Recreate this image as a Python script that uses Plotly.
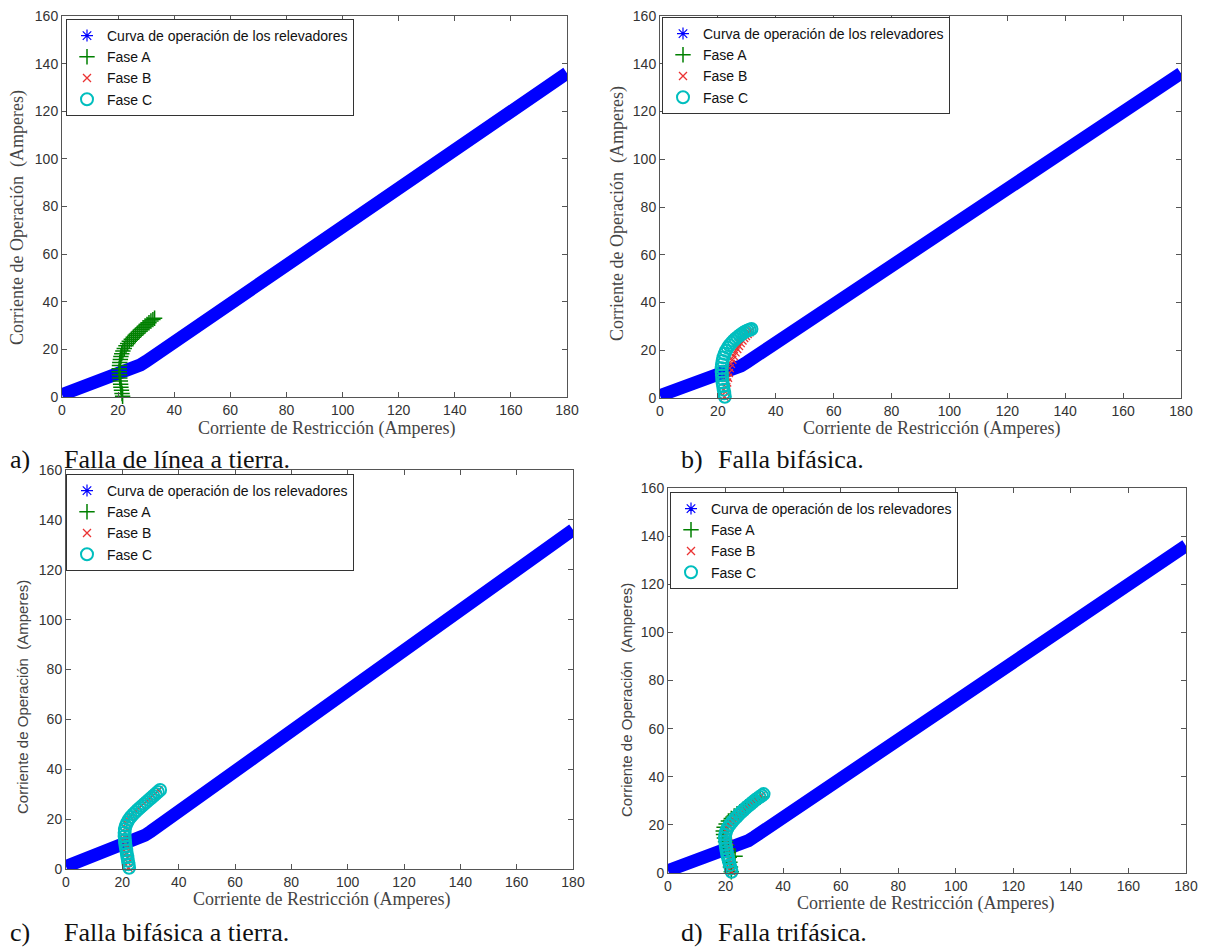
import plotly.graph_objects as go

# ---------------- data ----------------
# Relay operating curve (Corriente de Restricción vs Corriente de Operación)
curve_x = [0, 5, 10, 15, 20, 25, 28, 30, 40, 60, 80, 100, 120, 140, 160, 180]
curve_y = [1, 3, 5, 7, 9.5, 11.5, 13.5, 15, 23, 39, 55, 71, 88, 104, 120, 136]

# a) Falla de línea a tierra
a_A_x = [21.6, 21.4, 21.2, 21.0, 20.9, 20.8, 20.6, 20.5, 20.4, 20.4, 20.5, 20.6, 20.8, 21.0, 21.3, 21.7, 22.2,
         22.8, 23.4, 24.0, 24.7, 25.4, 26.1, 26.8, 27.5, 28.2, 28.9, 29.6, 30.3, 31.0, 31.7, 32.4, 33.0]
a_A_y = [0.3, 1.5, 2.8, 4.1, 5.4, 6.7, 8.0, 9.3, 10.6, 11.9, 13.2, 14.5, 15.8, 17.0, 18.2, 19.3, 20.4,
         21.5, 22.5, 23.4, 24.3, 25.1, 25.9, 26.7, 27.5, 28.3, 29.1, 29.8, 30.5, 31.2, 31.9, 32.5, 33.1]
a_B_x, a_B_y = [None], [None]
a_C_x, a_C_y = [None], [None]

# b) Falla bifásica
b_A_x, b_A_y = [None], [None]
b_B_x = [22.3, 22.6, 22.9, 23.2, 23.5, 23.8, 24.1, 24.5, 25.0, 25.5, 26.1, 26.7, 27.3, 27.9, 28.5, 29.1,
         29.7, 30.3, 30.9, 31.5]
b_B_y = [0.5, 2.5, 4.5, 6.5, 8.5, 10.5, 12.5, 14.3, 16.0, 17.6, 19.1, 20.5, 21.8, 23.0, 24.1, 25.1,
         26.0, 26.8, 27.5, 28.2]
b_C_x = [22.4, 22.2, 22.0, 21.8, 21.6, 21.5, 21.4, 21.3, 21.3, 21.4, 21.6, 21.9, 22.3, 22.8, 23.4, 24.0,
         24.7, 25.4, 26.1, 26.8, 27.5, 28.2, 28.9, 29.6, 30.3, 31.0, 31.6]
b_C_y = [0.5, 2.0, 3.5, 5.0, 6.5, 8.0, 9.5, 11.0, 12.5, 14.0, 15.5, 17.0, 18.5, 19.8, 21.0, 22.1,
         23.1, 24.0, 24.8, 25.5, 26.2, 26.8, 27.4, 27.9, 28.3, 28.6, 28.9]

# c) Falla bifásica a tierra
c_A_x, c_A_y = [None], [None]
c_B_x = [22.2, 22.0, 21.8, 21.5, 21.3, 21.1, 21.0, 20.9, 21.0, 21.4, 22.0, 22.8, 23.8, 24.8, 25.8, 26.8,
         27.8, 28.8, 29.8, 30.8, 31.8, 32.8]
c_B_y = [0.5, 2.5, 4.5, 6.5, 8.5, 10.5, 12.5, 14.5, 16.5, 18.3, 19.8, 21.0, 22.2, 23.3, 24.4, 25.4,
         26.4, 27.4, 28.4, 29.4, 30.4, 31.6]
c_C_x = [22.4, 22.2, 22.0, 21.8, 21.6, 21.4, 21.2, 21.0, 20.9, 20.8, 20.8, 20.9, 21.2, 21.7, 22.3, 23.0,
         23.8, 24.6, 25.4, 26.2, 27.0, 27.8, 28.6, 29.4, 30.2, 31.0, 31.8, 32.6, 33.4]
c_C_y = [0.5, 1.9, 3.3, 4.7, 6.1, 7.5, 8.9, 10.3, 11.7, 13.1, 14.5, 15.9, 17.3, 18.6, 19.8, 20.9,
         21.9, 22.8, 23.7, 24.5, 25.3, 26.1, 26.9, 27.7, 28.5, 29.3, 30.1, 30.9, 31.7]

# d) Falla trifásica
d_A_x = [22.0, 21.7, 21.5, 21.3, 21.0, 20.7, 20.4, 20.0, 19.6, 19.3, 19.2, 19.5, 20.2, 21.0, 22.0, 23.0,
         24.0, 25.0, 26.0, 27.0, 28.0, 29.0, 30.0, 31.0, 32.0, 23.3]
d_A_y = [0.5, 2.5, 4.5, 6.5, 8.5, 10.0, 11.5, 13.0, 14.5, 16.0, 17.5, 19.0, 20.4, 21.6, 22.7, 23.7,
         24.6, 25.5, 26.4, 27.3, 28.2, 29.1, 30.0, 30.8, 31.6, 7.0]
d_B_x = [22.2, 22.0, 21.8, 21.6, 21.4, 21.2, 21.0, 20.8, 20.7, 20.8, 21.2, 21.9, 22.7, 23.6, 24.5, 25.4,
         26.3, 27.2, 28.1, 29.0, 29.9, 30.8, 31.7, 32.6]
d_B_y = [0.5, 2.5, 4.5, 6.5, 8.5, 10.5, 12.5, 14.5, 16.5, 18.4, 20.0, 21.3, 22.4, 23.4, 24.4, 25.3,
         26.2, 27.1, 28.0, 28.9, 29.8, 30.6, 31.4, 32.3]
d_C_x = [22.1, 21.8, 21.5, 21.2, 20.9, 20.6, 20.4, 20.2, 20.0, 19.9, 19.8, 19.9, 20.2, 20.7, 21.4, 22.2,
         23.0, 23.8, 24.6, 25.4, 26.2, 27.0, 27.8, 28.6, 29.4, 30.2, 31.0, 31.8, 32.6, 33.2]
d_C_y = [0.5, 1.9, 3.3, 4.7, 6.1, 7.5, 8.9, 10.3, 11.7, 13.1, 14.5, 15.9, 17.3, 18.7, 20.0, 21.2,
         22.3, 23.3, 24.3, 25.2, 26.1, 27.0, 27.8, 28.6, 29.4, 30.2, 30.9, 31.6, 32.2, 32.8]

x_ticks = [0, 20, 40, 60, 80, 100, 120, 140, 160, 180]
y_ticks = [0, 20, 40, 60, 80, 100, 120, 140, 160]

legend_names = ["Curva de operación de los relevadores", "Fase A", "Fase B", "Fase C"]
y_title = "Corriente de Operación\u00a0 (Amperes)"
x_title = "Corriente de Restricción (Amperes)"
captions = [("a)", "Falla de línea a tierra."), ("b)", "Falla bifásica."),
            ("c)", "Falla bifásica a tierra."), ("d)", "Falla trifásica.")]

panel_data = [
    (a_A_x, a_A_y, a_B_x, a_B_y, a_C_x, a_C_y),
    (b_A_x, b_A_y, b_B_x, b_B_y, b_C_x, b_C_y),
    (c_A_x, c_A_y, c_B_x, c_B_y, c_C_x, c_C_y),
    (d_A_x, d_A_y, d_B_x, d_B_y, d_C_x, d_C_y),
]

# ---------------- layout geometry (pixels of the page) ----------------
OFF = 8                      # default page body margin
W, H = 1214 - OFF, 948 - OFF
# (x0px, x1px, ytop px, ybottom px)
boxes = [(62, 567, 16, 397), (660, 1181, 16, 398), (66, 573, 470, 869), (668, 1186, 488, 873)]
legend_pos = [(66, 19), (662, 17), (66, 474), (670, 492)]
ytitle_pos = [(18, 218, "serif"), (617, 214, "serif"), (22, 697, "sans"), (626, 700, "sans")]
xtitle_pos = [(326, 428), (931, 428), (321, 899), (925, 903)]
caption_pos = [((8, 459), (62, 459)), ((679, 459), (716, 459)), ((8, 932), (62, 932)), ((679, 932), (716, 932))]

SERIF = "Liberation Serif, Times New Roman, serif"
SANS = "Liberation Sans, Arial, sans-serif"

BLUE = "rgb(0,0,255)"
GREEN = "rgb(0,128,0)"
RED = "rgb(235,50,50)"
CYAN = "rgb(0,190,190)"


def px(x):
    return (x - OFF) / W


def py(y):
    return 1 - (y - OFF) / H


fig = go.Figure()
layout = dict(width=W, height=H, margin=dict(l=0, r=0, t=0, b=0, pad=0, autoexpand=False),
              paper_bgcolor="white", plot_bgcolor="white", showlegend=True)
annotations = []

for i, (box, data) in enumerate(zip(boxes, panel_data)):
    n = "" if i == 0 else str(i + 1)
    xa, ya = "x" + n, "y" + n
    lg = "legend" + n
    x0, x1, yt, yb = box
    axis_common = dict(showline=True, linecolor="#555", linewidth=1, mirror="ticks",
                       ticks="inside", ticklen=5, tickcolor="#555", showgrid=False, zeroline=False,
                       automargin=False, ticklabeloverflow="allow",
                       tickfont=dict(family=SANS, size=14, color="#333"))
    layout["xaxis" + n] = dict(domain=[px(x0), px(x1)], anchor=ya, range=[0, 180],
                               tickvals=x_ticks, **axis_common)
    layout["yaxis" + n] = dict(domain=[py(yb), py(yt)], anchor=xa, range=[0, 160],
                               tickvals=y_ticks, **axis_common)
    lx, ly = legend_pos[i]
    layout[lg] = dict(x=px(lx), y=py(ly), xanchor="left", yanchor="top", bgcolor="white",
                      bordercolor="#333", borderwidth=1, tracegroupgap=0, itemwidth=30,
                      font=dict(family=SANS, size=14, color="#111"))

    ax_, ay_, bx_, by_, cx_, cy_ = data
    # operating curve (thick band of asterisks)
    fig.add_trace(go.Scatter(x=curve_x, y=curve_y, mode="lines", line=dict(color=BLUE, width=13),
                             xaxis=xa, yaxis=ya, showlegend=False, hoverinfo="skip"))
    fig.add_trace(go.Scatter(x=[None], y=[None], mode="markers", name=legend_names[0],
                             marker=dict(symbol="asterisk-open", size=10, color=BLUE,
                                         line=dict(color=BLUE, width=1.2)),
                             xaxis=xa, yaxis=ya, legend=lg))
    fig.add_trace(go.Scatter(x=ax_, y=ay_, mode="markers", name=legend_names[1],
                             marker=dict(symbol="cross-thin-open", size=11, color=GREEN,
                                         line=dict(color=GREEN, width=1.5)),
                             xaxis=xa, yaxis=ya, legend=lg, cliponaxis=False))
    fig.add_trace(go.Scatter(x=bx_, y=by_, mode="markers", name=legend_names[2],
                             marker=dict(symbol="x-thin-open", size=8, color=RED,
                                         line=dict(color=RED, width=1.3)),
                             xaxis=xa, yaxis=ya, legend=lg, cliponaxis=False))
    fig.add_trace(go.Scatter(x=cx_, y=cy_, mode="markers", name=legend_names[3],
                             marker=dict(symbol="circle-open", size=12, color=CYAN,
                                         line=dict(color=CYAN, width=2)),
                             xaxis=xa, yaxis=ya, legend=lg, cliponaxis=False))

    tx, ty, fam = ytitle_pos[i]
    annotations.append(dict(x=px(tx), y=py(ty), xref="paper", yref="paper", text=y_title,
                            textangle=-90, showarrow=False, xanchor="center", yanchor="middle",
                            font=dict(family=SERIF if fam == "serif" else SANS,
                                      size=18 if fam == "serif" else 15, color="#444")))
    xx, xy = xtitle_pos[i]
    annotations.append(dict(x=px(xx), y=py(xy), xref="paper", yref="paper", text=x_title,
                            showarrow=False, xanchor="center", yanchor="middle",
                            font=dict(family=SERIF, size=18, color="#444")))
    (l1x, l1y), (l2x, l2y) = caption_pos[i]
    annotations.append(dict(x=px(l1x), y=py(l1y), xref="paper", yref="paper", text=captions[i][0],
                            showarrow=False, xanchor="left", yanchor="middle",
                            font=dict(family=SERIF, size=26, color="#111")))
    annotations.append(dict(x=px(l2x), y=py(l2y), xref="paper", yref="paper", text=captions[i][1],
                            showarrow=False, xanchor="left", yanchor="middle",
                            font=dict(family=SERIF, size=26, color="#111")))

layout["annotations"] = annotations
fig.update_layout(**layout)
fig.write_html("out.html")
